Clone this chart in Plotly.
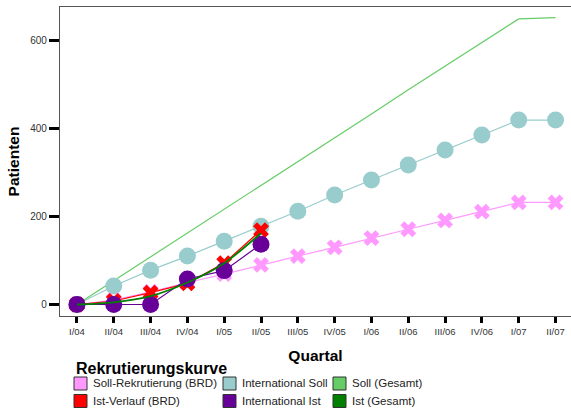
import plotly.graph_objects as go

quarters = ["I/04", "II/04", "III/04", "IV/04", "I/05", "II/05", "III/05", "IV/05",
            "I/06", "II/06", "III/06", "IV/06", "I/07", "II/07"]

soll_gesamt = [0, 54, 108, 163, 217, 271, 325, 379, 433, 488, 542, 596, 649, 652]
intl_soll = [0, 42, 78, 110, 144, 178, 212, 249, 283, 317, 351, 385, 419, 419]
soll_brd = [0, 10, 29, 50, 69, 90, 110, 130, 151, 171, 191, 211, 232, 232]
ist_brd = [0, 8, 27, 48, 94, 169]
intl_ist = [0, 0, 0, 58, 77, 137]
ist_gesamt = [0, 5, 19, 50, 94, 162]

y_ticks = [0, 200, 400, 600]

legend_title = "Rekrutierungskurve"
legend_names = ["Soll-Rekrutierung (BRD)", "Ist-Verlauf (BRD)",
                "International Soll", "International Ist",
                "Soll (Gesamt)", "Ist (Gesamt)"]
legend_colors = ["#FF99FF", "#FF0000", "#99CCCC", "#660099", "#66CC66", "#008000"]

W, H = 571, 411
L, R, T, B = 60, 0, 7, 95
pw, ph = W - L - R, H - T - B

def px(x):
    return (x - L) / pw

def py(y):
    return (H - B - y) / ph

fig = go.Figure()

fig.add_trace(go.Scatter(x=quarters, y=soll_gesamt, mode="lines",
                         line=dict(color="#66CC66", width=1.2), showlegend=False))
fig.add_trace(go.Scatter(x=quarters, y=intl_soll, mode="lines+markers",
                         line=dict(color="#99CCCC", width=1.2),
                         marker=dict(symbol="circle", size=17, color="#99CCCC"),
                         showlegend=False))
fig.add_trace(go.Scatter(x=quarters, y=soll_brd, mode="lines+markers",
                         line=dict(color="#FF99FF", width=1.2),
                         marker=dict(symbol="x", size=14, color="#FF99FF"),
                         showlegend=False))
fig.add_trace(go.Scatter(x=quarters[:len(ist_brd)], y=ist_brd, mode="lines+markers",
                         line=dict(color="#FF0000", width=1.2),
                         marker=dict(symbol="x", size=14, color="#FF0000"),
                         showlegend=False))
fig.add_trace(go.Scatter(x=quarters[:len(intl_ist)], y=intl_ist, mode="lines+markers",
                         line=dict(color="#660099", width=1.2),
                         marker=dict(symbol="circle", size=17, color="#660099"),
                         showlegend=False))
fig.add_trace(go.Scatter(x=quarters[:len(ist_gesamt)], y=ist_gesamt, mode="lines",
                         line=dict(color="#008000", width=1.8, shape="spline", smoothing=0.8),
                         showlegend=False))

# manual legend
shapes = []
annotations = []
annotations.append(dict(text="<b>" + legend_title + "</b>", x=px(74), y=py(368),
                        xref="paper", yref="paper", xanchor="left", yanchor="middle",
                        showarrow=False, font=dict(size=16, color="#000000")))
col_box_x = [74, 223, 333]
row_y = [383.5, 401]
for i, (name, col) in enumerate(zip(legend_names, legend_colors)):
    c, r = i // 2, i % 2
    x0 = col_box_x[c]
    yc = row_y[r]
    shapes.append(dict(type="rect", xref="paper", yref="paper",
                       x0=px(x0), x1=px(x0 + 13), y0=py(yc + 6.5), y1=py(yc - 6.5),
                       fillcolor=col, line=dict(color="#333333", width=1)))
    annotations.append(dict(text=name, x=px(x0 + 17), y=py(yc), xref="paper", yref="paper",
                            xanchor="left", yanchor="middle", showarrow=False,
                            font=dict(size=11.5, color="#222222")))

fig.update_layout(
    width=W, height=H,
    margin=dict(l=L, r=R, t=T, b=B, pad=0),
    paper_bgcolor="white", plot_bgcolor="white",
    font=dict(family="Liberation Sans, Arial, sans-serif", color="#333333"),
    shapes=shapes, annotations=annotations,
    xaxis=dict(type="category", categoryorder="array", categoryarray=quarters,
               range=[-0.46, 13.42], showgrid=False, zeroline=False,
               showline=True, linecolor="#555555", linewidth=1.2, mirror=True,
               ticks="outside", ticklen=6, tickwidth=3, tickcolor="#000000",
               tickfont=dict(size=9.5, color="#333333"),
               title=dict(text="<b>Quartal</b>", font=dict(size=15.5, color="#000000"), standoff=14)),
    yaxis=dict(range=[-26.1, 676], tickvals=y_ticks, showgrid=False, zeroline=False,
               showline=True, linecolor="#555555", linewidth=1.2, mirror=False,
               ticks="outside", ticklen=10, tickwidth=3, tickcolor="#000000",
               tickfont=dict(size=10, color="#333333"),
               title=dict(text="<b>Patienten</b>", font=dict(size=15.5, color="#000000"), standoff=6)),
)

fig.write_html("out.html", config={"displayModeBar": False},
               post_script="document.body.style.margin='0';document.body.style.overflow='hidden';")
